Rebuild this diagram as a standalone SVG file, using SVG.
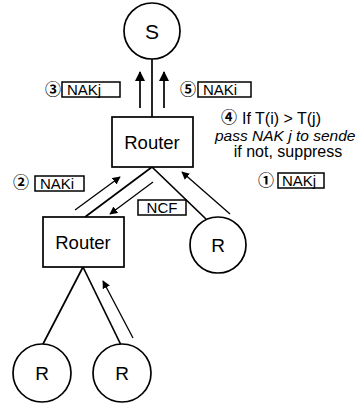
<svg xmlns="http://www.w3.org/2000/svg" width="357" height="403" viewBox="0 0 357 403">
<defs>
<marker id="ah" viewBox="0 0 10 10" refX="9" refY="5" markerWidth="8" markerHeight="8" markerUnits="userSpaceOnUse" orient="auto"><path d="M0,0 L10,5 L0,10 z" fill="#000"/></marker>
<marker id="ahb" viewBox="0 0 10 10" refX="9" refY="5" markerWidth="11" markerHeight="10" markerUnits="userSpaceOnUse" orient="auto"><path d="M0,0 L10,5 L0,10 z" fill="#000"/></marker>
</defs>
<style>
.n{fill:#fff;stroke:#000;stroke-width:1.7}
.l{stroke:#000;stroke-width:1.7;fill:none}
.a{stroke:#000;stroke-width:1.3;fill:none;marker-end:url(#ah)}
.ab{stroke:#000;stroke-width:1.7;fill:none;marker-end:url(#ahb)}
.t{font-family:"Liberation Sans",Arial,sans-serif;fill:#000}
.lbl{fill:#fff;stroke:#000;stroke-width:1.5}
.c{font-family:"Noto Sans CJK JP","DejaVu Sans",sans-serif;font-weight:bold;font-size:16px;fill:#000}
</style>
<g id="connectors">
<line class="l" x1="152" y1="59" x2="152" y2="117"/>
<line class="l" x1="152" y1="167" x2="85" y2="217"/>
<line class="l" x1="152" y1="167" x2="206" y2="219"/>
<line class="l" x1="83" y1="267" x2="43" y2="344"/>
<line class="l" x1="83" y1="267" x2="121" y2="345"/>
<line class="ab" x1="140" y1="108" x2="140" y2="72"/>
<line class="ab" x1="164" y1="108" x2="164" y2="72"/>
<line class="a" x1="75" y1="210" x2="120" y2="177"/>
<line class="a" x1="153" y1="182" x2="110" y2="214"/>
<line class="a" x1="230" y1="214" x2="182" y2="172"/>
<line class="a" x1="133" y1="338" x2="103" y2="281"/>
</g>
<g id="S"><circle class="n" cx="152" cy="31" r="28"/><text class="t" x="152" y="39" font-size="21" text-anchor="middle">S</text></g>
<g id="router1"><rect class="n" x="112" y="117" width="81" height="50"/><text class="t" x="152" y="149" font-size="18.5" text-anchor="middle">Router</text></g>
<g id="router2"><rect class="n" x="43" y="217" width="81" height="50"/><text class="t" x="83" y="249" font-size="18.5" text-anchor="middle">Router</text></g>
<g id="R1"><circle class="n" cx="218" cy="245" r="28"/><text class="t" x="218" y="252" font-size="19" text-anchor="middle">R</text></g>
<g id="R2"><circle class="n" cx="42" cy="373" r="29"/><text class="t" x="42" y="380" font-size="19" text-anchor="middle">R</text></g>
<g id="R3"><circle class="n" cx="122" cy="373" r="29"/><text class="t" x="122" y="380" font-size="19" text-anchor="middle">R</text></g>
<g id="lab3"><text class="c" x="53" y="95" text-anchor="middle">③</text><rect class="lbl" x="62" y="82" width="58" height="15"/><text class="t" x="67" y="95" font-size="15">NAKj</text></g>
<g id="lab5"><text class="c" x="188" y="95" text-anchor="middle">⑤</text><rect class="lbl" x="198" y="82" width="53" height="15"/><text class="t" x="203" y="95" font-size="15">NAKi</text></g>
<g id="lab2"><text class="c" x="21" y="188" text-anchor="middle">②</text><rect class="lbl" x="35" y="176" width="49" height="15"/><text class="t" x="40" y="189" font-size="15">NAKi</text></g>
<g id="lab1"><text class="c" x="266" y="186" text-anchor="middle">①</text><rect class="lbl" x="278" y="173" width="46" height="15"/><text class="t" x="282" y="186" font-size="15">NAKj</text></g>
<g id="labNCF"><rect class="lbl" x="138" y="200" width="48" height="15"/><text class="t" x="162" y="213" font-size="15" text-anchor="middle">NCF</text></g>
<g id="note4"><text class="c" x="229" y="123" font-size="15" text-anchor="middle">④</text><text class="t" x="242" y="124" font-size="16">If T(i) &gt; T(j)</text>
<text class="t" x="215" y="141" font-size="15.5" font-style="italic">pass NAK j to sende</text>
<text class="t" x="288" y="157" font-size="16" text-anchor="middle">if not, suppress</text></g>
</svg>
